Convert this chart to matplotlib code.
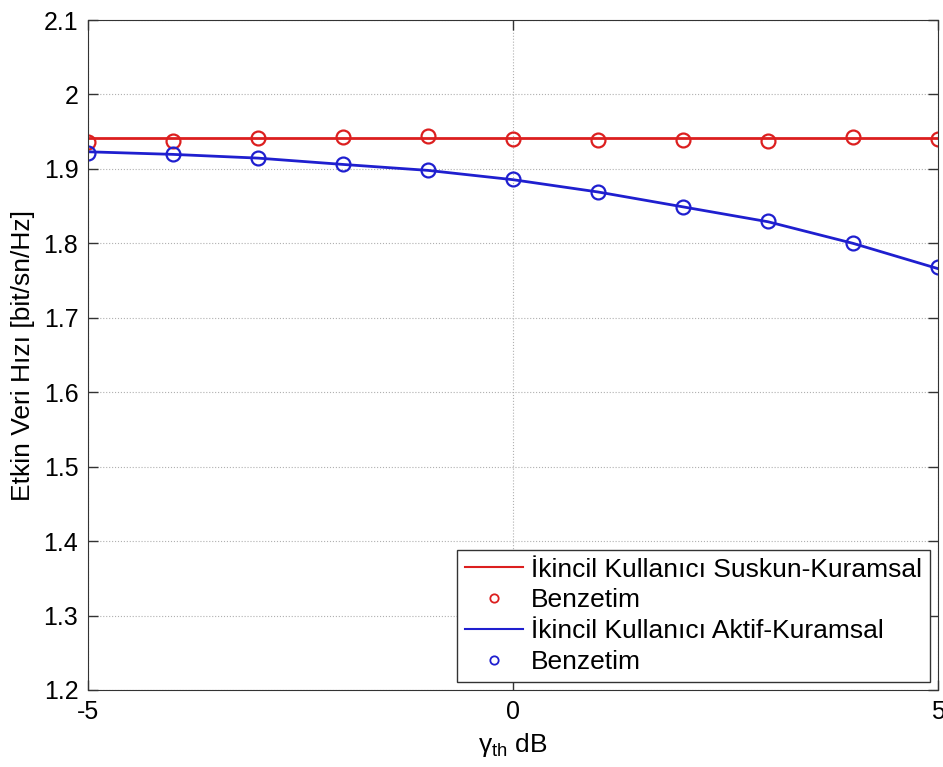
import matplotlib
matplotlib.use("Agg")
import matplotlib.pyplot as plt
import numpy as np

plt.rcParams['font.family'] = ['Liberation Sans', 'DejaVu Sans']
plt.rcParams['mathtext.default'] = 'regular'
plt.rcParams['axes.unicode_minus'] = False

# threshold values in dB
gamma_th = [-5, -4, -3, -2, -1, 0, 1, 2, 3, 4, 5]

# secondary user silent: theory and simulation
silent_theory = [1.942, 1.942, 1.942, 1.942, 1.942, 1.942, 1.942, 1.942, 1.942, 1.942, 1.942]
silent_sim = [1.936, 1.9375, 1.942, 1.943, 1.944, 1.9405, 1.939, 1.939, 1.9375, 1.943, 1.9395]

# secondary user active: theory and simulation
active_theory = [1.923, 1.9195, 1.9145, 1.906, 1.898, 1.8855, 1.869, 1.849, 1.829, 1.8, 1.766]
active_sim = [1.922, 1.9195, 1.915, 1.906, 1.8985, 1.886, 1.8695, 1.849, 1.83, 1.8, 1.7685]

yticks = [1.2, 1.3, 1.4, 1.5, 1.6, 1.7, 1.8, 1.9, 2.0, 2.1]
ytick_labels = ['1.2', '1.3', '1.4', '1.5', '1.6', '1.7', '1.8', '1.9', '2', '2.1']

red = '#dc1f1f'
blue = '#1f1fcf'

fig = plt.figure(figsize=(9.43, 7.67), dpi=100)
ax = fig.add_axes([0.0933, 0.1004, 0.9014, 0.8735])

ax.plot(gamma_th, silent_theory, color=red, lw=2, label='İkincil Kullanıcı Suskun-Kuramsal')
ax.plot(gamma_th, silent_sim, 'o', color=red, mfc='none', ms=10, mew=1.6, label='Benzetim')
ax.plot(gamma_th, active_theory, color=blue, lw=2, label='İkincil Kullanıcı Aktif-Kuramsal')
ax.plot(gamma_th, active_sim, 'o', color=blue, mfc='none', ms=10, mew=1.6, label='Benzetim')

ax.set_xlim(-5, 5)
ax.set_ylim(1.2, 2.1)
ax.set_xticks([-5, 0, 5])
ax.set_yticks(yticks)
ax.set_yticklabels(ytick_labels)
ax.tick_params(direction='in', top=True, right=True, length=7, width=1,
               labelsize=18, color='#333333', pad=7)
ax.grid(True, linestyle=':', color='#b0b0b0', lw=0.8)
for s in ax.spines.values():
    s.set_color('#333333')

ax.set_xlabel(r'$\gamma_{th}$ dB', fontsize=19, labelpad=5)
ax.set_ylabel('Etkin Veri Hızı [bit/sn/Hz]', fontsize=19, labelpad=6)

leg = ax.legend(loc='lower right', fontsize=19, handlelength=2.2, labelspacing=0.26,
                handletextpad=0.3, borderpad=0.3, fancybox=False, framealpha=1,
                edgecolor='#333333', borderaxespad=0.3, markerscale=0.6)
leg.get_frame().set_linewidth(1)
for h in leg.legend_handles:
    h.set_linewidth(1.5) if h.get_linestyle() != 'None' else h.set_markeredgewidth(1.3)

plt.savefig('out.png', dpi=100)
plt.close()
